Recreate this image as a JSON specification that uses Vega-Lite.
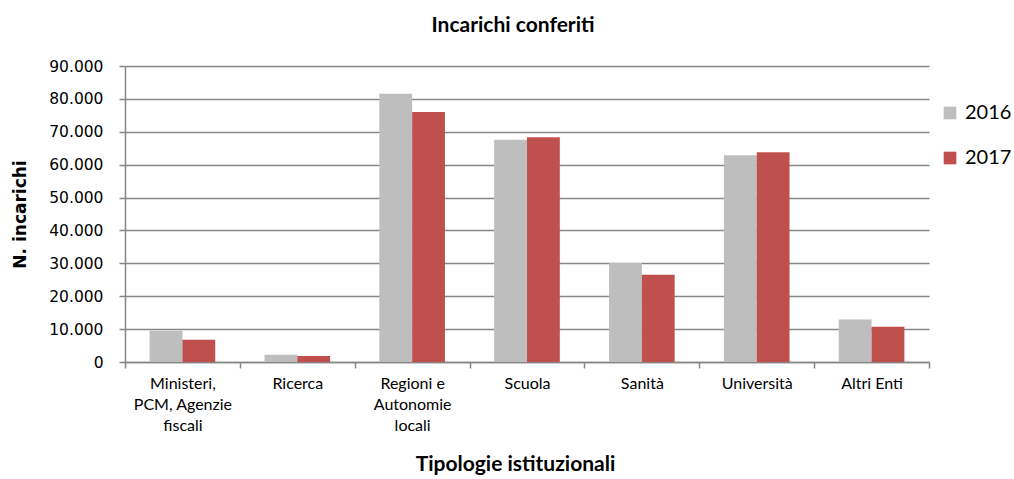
{
  "$schema": "https://vega.github.io/schema/vega-lite/v6.json",
  "width": 804,
  "height": 296,
  "autosize": {"type": "none"},
  "padding": {"left": 125, "top": 66, "right": 85, "bottom": 117},
  "background": "white",
  "title": {
    "text": "Incarichi conferiti",
    "font": "Lato",
    "fontSize": 21,
    "fontWeight": "bold",
    "color": "black",
    "anchor": "middle",
    "frame": "group",
    "dx": -14,
    "offset": 23
  },
  "data": {
    "values": [
      {"categoria": "Ministeri, PCM, Agenzie fiscali", "anno": "2016", "incarichi": 9500},
      {"categoria": "Ministeri, PCM, Agenzie fiscali", "anno": "2017", "incarichi": 6800},
      {"categoria": "Ricerca", "anno": "2016", "incarichi": 2200},
      {"categoria": "Ricerca", "anno": "2017", "incarichi": 1800},
      {"categoria": "Regioni e Autonomie locali", "anno": "2016", "incarichi": 81600},
      {"categoria": "Regioni e Autonomie locali", "anno": "2017", "incarichi": 76000},
      {"categoria": "Scuola", "anno": "2016", "incarichi": 67600},
      {"categoria": "Scuola", "anno": "2017", "incarichi": 68300},
      {"categoria": "Sanità", "anno": "2016", "incarichi": 30100},
      {"categoria": "Sanità", "anno": "2017", "incarichi": 26500},
      {"categoria": "Università", "anno": "2016", "incarichi": 62900},
      {"categoria": "Università", "anno": "2017", "incarichi": 63800},
      {"categoria": "Altri Enti", "anno": "2016", "incarichi": 12900},
      {"categoria": "Altri Enti", "anno": "2017", "incarichi": 10700}
    ]
  },
  "mark": {"type": "bar"},
  "encoding": {
    "x": {
      "field": "categoria",
      "type": "nominal",
      "sort": null,
      "scale": {"paddingInner": 0, "paddingOuter": 0},
      "axis": {
        "title": "Tipologie istituzionali",
        "titleFont": "Lato",
        "titleFontSize": 21,
        "titleFontWeight": "bold",
        "titleColor": "black",
        "titlePadding": 20,
        "titleX": 390,
        "titleAlign": "center",
        "labelAngle": 0,
        "labelFont": "Lato",
        "labelFontSize": 16,
        "labelColor": "black",
        "labelLineHeight": 21,
        "labelPadding": 7,
        "labelExpr": "datum.label == 'Ministeri, PCM, Agenzie fiscali' ? ['Ministeri,', 'PCM, Agenzie', 'fiscali'] : datum.label == 'Regioni e Autonomie locali' ? ['Regioni e', 'Autonomie', 'locali'] : datum.label",
        "tickBand": "extent",
        "tickSize": 6,
        "tickColor": "#868686",
        "domainColor": "#868686",
        "domainWidth": 1.5,
        "tickWidth": 1.5,
        "grid": false
      }
    },
    "xOffset": {
      "field": "anno",
      "type": "nominal",
      "scale": {"paddingInner": 0, "paddingOuter": 0.75}
    },
    "y": {
      "field": "incarichi",
      "type": "quantitative",
      "scale": {"domain": [0, 90000]},
      "axis": {
        "title": "N. incarichi",
        "titleFont": "DejaVu Sans",
        "titleFontSize": 17,
        "titleFontWeight": "bold",
        "titleColor": "black",
        "titlePadding": 19,
        "values": [0, 10000, 20000, 30000, 40000, 50000, 60000, 70000, 80000, 90000],
        "labelExpr": "datum.value == 0 ? '0' : format(datum.value / 1000, 'd') + '.000'",
        "labelFont": "DejaVu Sans",
        "labelFontSize": 15.5,
        "labelColor": "black",
        "labelPadding": 16,
        "tickSize": 6,
        "tickColor": "#868686",
        "tickWidth": 1.5,
        "domainColor": "#868686",
        "domainWidth": 1.5,
        "gridColor": "#868686",
        "gridWidth": 1.5
      }
    },
    "color": {
      "field": "anno",
      "type": "nominal",
      "scale": {"domain": ["2016", "2017"], "range": ["#BEBEBE", "#C0504D"]},
      "legend": {
        "title": null,
        "orient": "none",
        "legendX": 815,
        "legendY": 37,
        "padding": 0,
        "symbolType": "square",
        "symbolSize": 160,
        "symbolStrokeWidth": 0,
        "labelFont": "Lato",
        "labelFontSize": 20,
        "labelColor": "black",
        "labelOffset": 5,
        "rowPadding": 25
      }
    }
  },
  "config": {
    "view": {"stroke": null}
  }
}
